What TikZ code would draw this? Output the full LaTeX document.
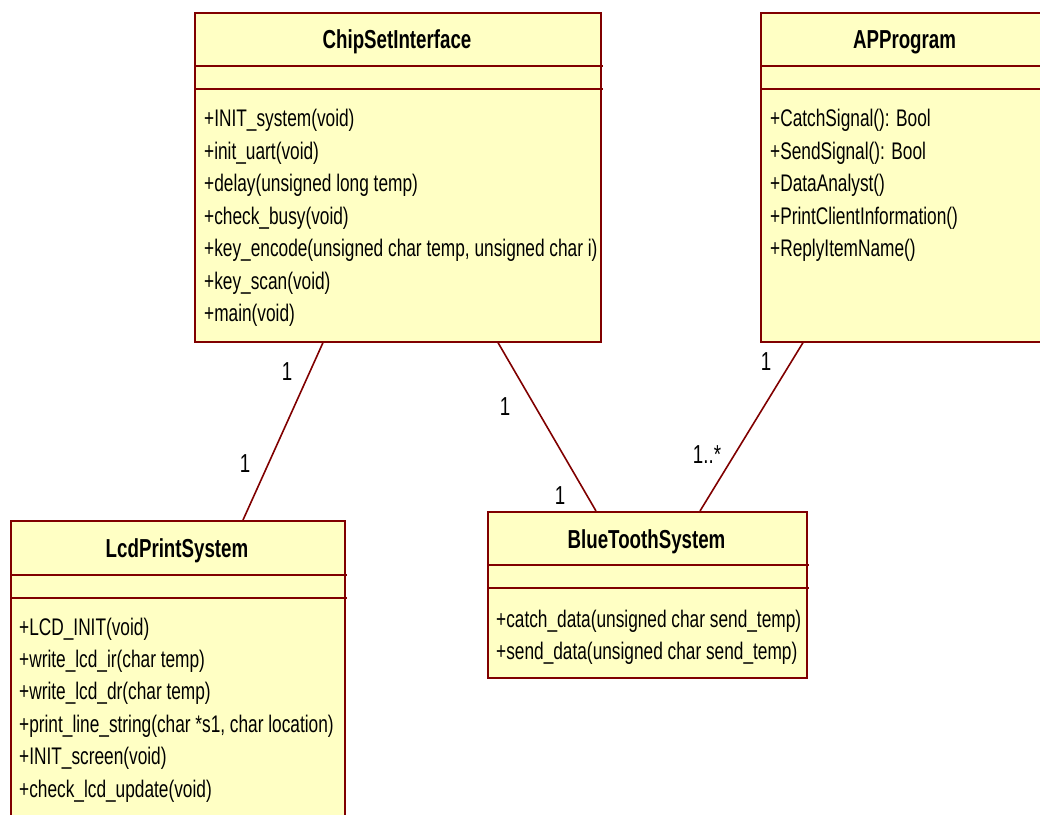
\documentclass[tikz,border=0pt]{standalone}
\usepackage{fontspec}
\setmainfont[FakeStretch=0.72]{Liberation Sans}
\definecolor{umlfill}{RGB}{255,255,196}
\definecolor{umlline}{RGB}{128,0,0}
\begin{document}
\begin{tikzpicture}[x=1pt,y=-1pt,
  classbox/.style={draw=umlline,fill=umlfill,line width=1.6pt,anchor=north west,inner sep=0pt},
  divider/.style={draw=umlline,line width=1.6pt},
  title/.style={font=\fontsize{26}{28}\selectfont\bfseries,anchor=base,inner sep=0pt},
  member/.style={font=\fontsize{24}{26}\selectfont,anchor=base west,inner sep=0pt},
  mult/.style={font=\fontsize{26}{28}\selectfont,inner sep=0pt},
  assoc/.style={draw=umlline,line width=1.6pt}]
\useasboundingbox (0,0) rectangle (1040,814);
\clip (0,0) rectangle (1040,814);
% ChipSetInterface
\node[classbox,minimum width=406pt,minimum height=329pt] (chip) at (194,12) {};
\node[title] (chipT) at (397,48) {ChipSetInterface};
\draw[divider] (194,66) -- (603,66);
\draw[divider] (194,89) -- (603,89);
\foreach \t [count=\i] in {+INIT\_system(void),+init\_uart(void),+delay(unsigned long temp),+check\_busy(void),{+key\_encode(unsigned char temp, unsigned char i)},+key\_scan(void),+main(void)}
  \node[member] (chipM\i) at (204,{126.5+32.5*(\i-1)}) {\t};
% APProgram
\node[classbox,minimum width=289pt,minimum height=329pt] (ap) at (760,12) {};
\node[title] (apT) at (904.5,48) {APProgram};
\draw[divider] (760,66) -- (1050,66);
\draw[divider] (760,89) -- (1050,89);
\foreach \t [count=\i] in {+CatchSignal(): Bool,+SendSignal(): Bool,+DataAnalyst(),+PrintClientInformation(),+ReplyItemName()}
  \node[member] (apM\i) at (770,{126.5+32.5*(\i-1)}) {\t};
% LcdPrintSystem
\node[classbox,minimum width=334pt,minimum height=320pt] (lcd) at (10,520) {};
\node[title] (lcdT) at (177,557) {LcdPrintSystem};
\draw[divider] (10,575) -- (347,575);
\draw[divider] (10,598) -- (347,598);
\foreach \t [count=\i] in {+LCD\_INIT(void),+write\_lcd\_ir(char temp),+write\_lcd\_dr(char temp),{+print\_line\_string(char *s1, char location)},+INIT\_screen(void),+check\_lcd\_update(void)}
  \node[member] (lcdM\i) at (19,{635+32.4*(\i-1)}) {\t};
% BlueToothSystem
\node[classbox,minimum width=319pt,minimum height=166pt] (bt) at (487,511) {};
\node[title] (btT) at (646.5,548) {BlueToothSystem};
\draw[divider] (487,565) -- (809,565);
\draw[divider] (487,588) -- (809,588);
\foreach \t [count=\i] in {+catch\_data(unsigned char send\_temp),+send\_data(unsigned char send\_temp)}
  \node[member] (btM\i) at (496,{627+32.5*(\i-1)}) {\t};
% associations
\draw[assoc] ([xshift=129pt]chip.south west) -- ([xshift=233pt]lcd.north west);
\draw[assoc] ([xshift=304pt]chip.south west) -- ([xshift=109pt]bt.north west);
\draw[assoc] ([xshift=43pt]ap.south west) -- ([xshift=213pt]bt.north west);
% multiplicities
\node[mult] (m1) at (287,372) {1};
\node[mult] (m2) at (245,464) {1};
\node[mult] (m3) at (505,407) {1};
\node[mult] (m4) at (560,496) {1};
\node[mult] (m5) at (766,362) {1};
\node[mult] (m6) at (707,455) {1..*};
\end{tikzpicture}
\end{document}
